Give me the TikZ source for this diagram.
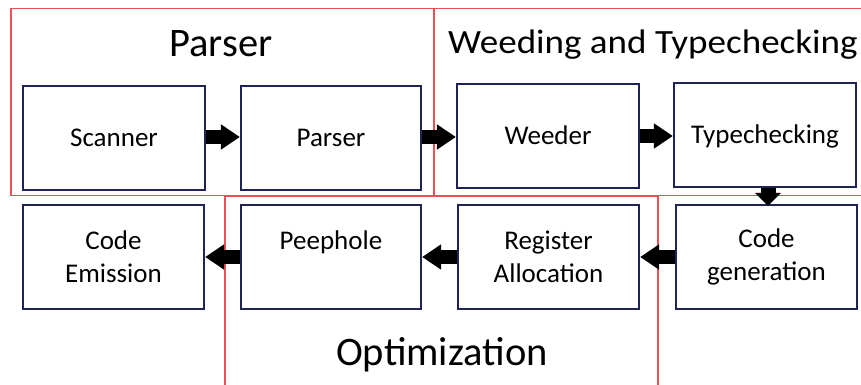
\documentclass[tikz,border=0pt]{standalone}
\usepackage{fontspec}
\setmainfont{Carlito}
\usetikzlibrary{arrows.meta}
\definecolor{navy}{RGB}{31,36,86}
\definecolor{framered}{RGB}{236,80,84}
\newcommand\lblstrut{\rule[-6pt]{0pt}{28pt}}
\tikzset{
  stage/.style={draw=navy, line width=2.2pt, fill=white, rectangle, inner sep=0pt,
    align=center, font=\fontsize{27}{33}\selectfont},
  frame/.style={draw=framered, line width=1.2pt},
  title/.style={inner sep=0pt, anchor=base},
  flow/.style={line width=14pt, black, -{Triangle[width=24pt,length=19pt]}},
}
\begin{document}
\begin{tikzpicture}[x=1pt,y=-1pt]
\useasboundingbox (0,0) rectangle (861,385);
\clip (0,0) rectangle (861,385);
\fill[white] (0,0) rectangle (861,385);
% frames
\draw[frame] (11,8.5) rectangle (434,195.5);
\draw[frame] (434,8.5) rectangle (875,195.5);
\draw[frame] (225,196.5) rectangle (658,400);
% titles
\node[title, font=\fontsize{40.5}{44}\selectfont] (tparser) at (221,57) {Parser};
\node[title, font=\fontsize{34}{38}\selectfont, anchor=base west] (tweed) at (448,54) {\scalebox{1.09}[1]{Weeding and Typechecking}};
\node[title, font=\fontsize{40.5}{44}\selectfont] (topt) at (442,365) {Optimization};
% stages
\node[stage, minimum width=182pt, minimum height=104pt] (scanner) at (114,138) {\lblstrut Scanner};
\node[stage, minimum width=180pt, minimum height=104pt] (parser) at (331,138) {\lblstrut Parser};
\node[stage, minimum width=182pt, minimum height=104pt] (weeder) at (548,136) {\lblstrut Weeder};
\node[stage, minimum width=182pt, minimum height=104pt] (typecheck) at (765,135) {\lblstrut Typechecking};
\node[stage, minimum width=181pt, minimum height=104pt] (emission) at (113.5,257) {Code\\Emission};
\node[stage, minimum width=180pt, minimum height=104pt] (peephole) at (331,257) {Peephole\\\mbox{}};
\node[stage, minimum width=181pt, minimum height=104pt] (regalloc) at (548.5,257) {Register\\Allocation};
\node[stage, minimum width=181pt, minimum height=104pt] (codegen) at (766.5,257) {Code\\generation};
% connectors
\draw[flow] ([yshift=1pt]scanner.east) -- ([yshift=1pt]parser.west);
\draw[flow] ([yshift=1pt]parser.east) -- ([yshift=1pt]parser.east -| weeder.west);
\draw[flow] (weeder.east) -- (weeder.east -| typecheck.west);
\draw[line width=15pt, black, -{Triangle[width=25pt,length=13pt]}]
  ([xshift=3pt]typecheck.south) -- ([xshift=3pt,yshift=-2pt]typecheck.south |- codegen.north);
\draw[flow] (codegen.west) -- (regalloc.east);
\draw[flow] (regalloc.west) -- (peephole.east);
\draw[flow] (peephole.west) -- (emission.east);
\end{tikzpicture}
\end{document}
